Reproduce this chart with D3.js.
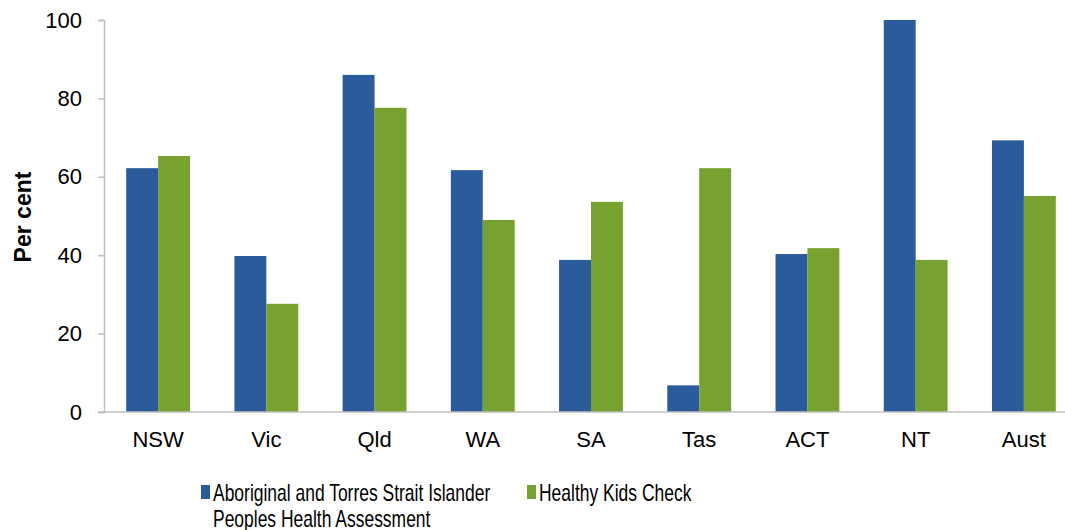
<!DOCTYPE html>
<html>
<head>
<meta charset="utf-8">
<script src="https://cdn.jsdelivr.net/npm/d3@7"></script>
<style>
  html, body { margin: 0; padding: 0; background: #fff; overflow: hidden; }
  svg { display: block; font-family: "Liberation Sans", Arial, sans-serif; }
</style>
</head>
<body>
<svg id="chart" width="1065" height="530"></svg>
<script>
const categories = ["NSW", "Vic", "Qld", "WA", "SA", "Tas", "ACT", "NT", "Aust"];
const seriesNames = ["Aboriginal and Torres Strait Islander Peoples Health Assessment", "Healthy Kids Check"];
const atsiValues = [62.2, 39.8, 86.0, 61.7, 38.8, 6.8, 40.3, 100, 69.3];
const hkcValues  = [65.3, 27.6, 77.6, 49.0, 53.6, 62.2, 41.8, 38.8, 55.1];
const yTicks = [0, 20, 40, 60, 80, 100];
const colors = ["#2a5b9b", "#78a22f"];

const svg = d3.select("#chart");
const mLeft = 104, mRight = 1078, mTop = 20, mBottom = 412;

const x0 = d3.scaleBand().domain(categories).range([mLeft, mRight]).paddingInner(0.41).paddingOuter(0.205);
const x1 = d3.scaleBand().domain([0, 1]).range([0, x0.bandwidth()]);
const y = d3.scaleLinear().domain([0, 100]).range([mBottom, mTop]);

const data = categories.map((c, i) => ({ cat: c, vals: [atsiValues[i], hkcValues[i]] }));

const groups = svg.append("g").selectAll("g").data(data).join("g")
  .attr("transform", d => `translate(${x0(d.cat)},0)`);
groups.selectAll("rect").data(d => d.vals.map((v, k) => ({ v, k }))).join("rect")
  .attr("x", d => x1(d.k))
  .attr("width", x1.bandwidth())
  .attr("y", d => y(d.v))
  .attr("height", d => y(0) - y(d.v))
  .attr("fill", d => colors[d.k]);

// Y axis
const yAxis = svg.append("g").attr("transform", `translate(${mLeft},0)`)
  .call(d3.axisLeft(y).tickValues(yTicks).tickSize(6).tickPadding(16));
yAxis.select(".domain").attr("stroke", "#bfbfbf").attr("stroke-width", 1.5);
yAxis.selectAll(".tick line").attr("stroke", "#bfbfbf").attr("stroke-width", 1.5);
yAxis.selectAll(".tick text").attr("font-size", 22).attr("fill", "#000")
  .attr("font-family", "Liberation Sans, Arial, sans-serif");

// X axis baseline
const xAxis = svg.append("g").attr("transform", `translate(0,${mBottom})`)
  .call(d3.axisBottom(x0).tickSize(0).tickPadding(19));
xAxis.select(".domain").attr("stroke", "#bfbfbf").attr("stroke-width", 1.5)
  .attr("d", `M${mLeft - 6},0H${mRight}`);
xAxis.selectAll(".tick text").attr("font-size", 22).attr("fill", "#000")
  .attr("font-family", "Liberation Sans, Arial, sans-serif");

// Y axis title
svg.append("text")
  .attr("transform", `translate(31,217) rotate(-90)`)
  .attr("text-anchor", "middle")
  .attr("font-size", 23).attr("font-weight", "bold").attr("fill", "#000")
  .text("Per cent");

// Legend
const legendItems = [
  { lines: ["Aboriginal and Torres Strait Islander", "Peoples Health Assessment"], x: 201, color: colors[0] },
  { lines: ["Healthy Kids Check"], x: 527, color: colors[1] }
];
const lg = svg.append("g");
legendItems.forEach(item => {
  lg.append("rect").attr("x", item.x).attr("y", 485).attr("width", 9).attr("height", 14).attr("fill", item.color);
  const t = lg.append("g").attr("transform", `translate(${item.x + 12},501) scale(0.76,1)`);
  item.lines.forEach((ln, i) => {
    t.append("text").attr("x", 0).attr("y", i * 26).attr("font-size", 23).attr("fill", "#000").text(ln);
  });
});
</script>
</body>
</html>
